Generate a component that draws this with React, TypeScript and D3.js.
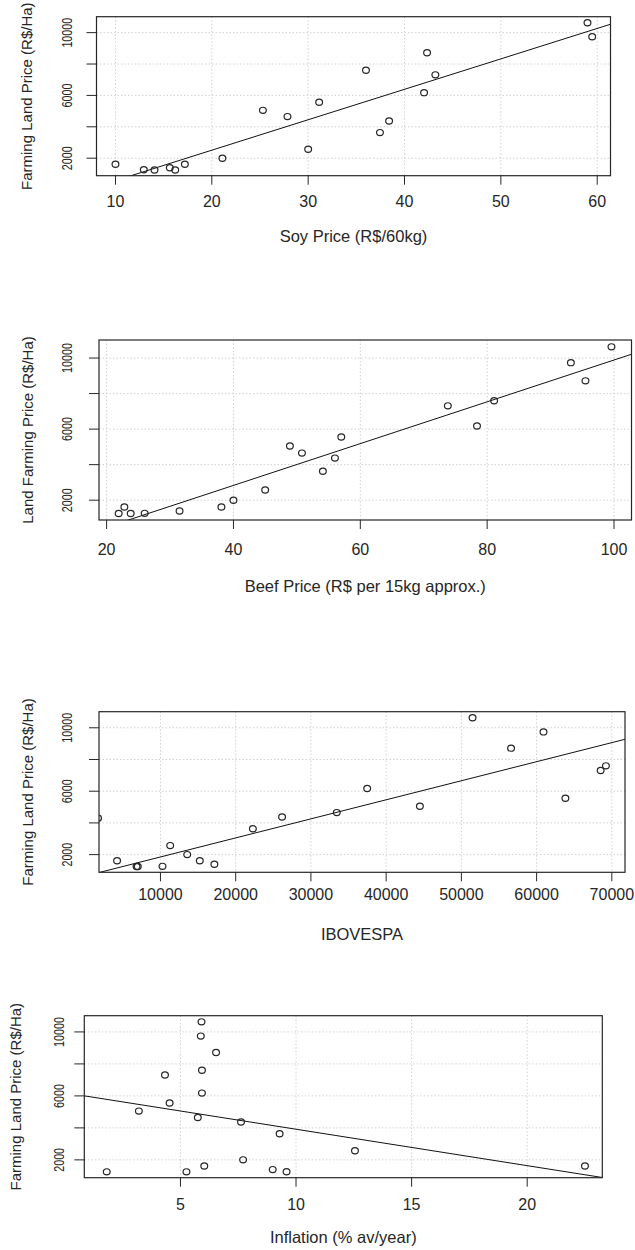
import React from 'react';
import * as d3 from 'd3';

// Farming land price (R$/Ha), one value per observation, shared by all panels
const landPrice = [1250, 1250, 1260, 1390, 1615, 1615, 2000, 2570, 3630, 4370, 4650, 5050, 5560, 6175, 7310, 7600, 8715, 9740, 10630];
const soyPrice = [14.05, 16.2, 12.94, 15.64, 10.0, 17.2, 21.1, 30.0, 37.45, 38.4, 27.85, 25.3, 31.14, 42.03, 43.2, 36.0, 42.34, 59.48, 58.99];
const beefPrice = [21.9, 23.8, 26.0, 31.5, 22.8, 38.1, 40, 45, 54.1, 56.0, 50.8, 48.9, 57.0, 78.4, 73.8, 81.1, 95.5, 93.2, 99.6];
const ibovespa = [6821, 6983, 10270, 17166, 4235, 15226, 13556, 11293, 22284, 26164, 33437, 44483, 63826, 37478, 68513, 69213, 56606, 60916, 51487];
const ibovExtra = [1700, 4300]; // point sitting on the left border
const inflation = [1.81, 5.26, 9.59, 8.99, 22.5, 6.03, 7.71, 12.55, 9.29, 7.62, 5.75, 3.2, 4.53, 5.93, 4.33, 5.93, 6.54, 5.88, 5.91];

// fitted lines [intercept, slope]
const soyFit = [-1367, 193.9];
const beefFit = [-1872, 117.6];
const ibovFit = [650, 0.1202];
const inflFit = [6194, -227.8];

const yTicks = [2000, 4000, 6000, 8000, 10000];
const yTickLabels = [2000, 6000, 10000];
const soyTicks = [10, 20, 30, 40, 50, 60];
const beefTicks = [20, 40, 60, 80, 100];
const ibovTicks = [10000, 20000, 30000, 40000, 50000, 60000, 70000];
const inflTicks = [5, 10, 15, 20];

const Y_DOMAIN = [885, 11015];
const FONT = '"Liberation Sans", Arial, sans-serif';
const INK = '#262626';

type PanelProps = {
  id: string;
  pts: number[][];
  fit: number[];
  xDomain: number[];
  xTicks: number[];
  box: { x0: number; x1: number; y0: number; y1: number };
  xLabel: string;
  yLabel: string;
  yTickX: number;
  yTitleX: number;
  xTickY: number;
  xTitleY: number;
};

function Panel(p: PanelProps) {
  const { box } = p;
  const x = d3.scaleLinear().domain(p.xDomain).range([box.x0, box.x1]);
  const y = d3.scaleLinear().domain(Y_DOMAIN).range([box.y1, box.y0]);
  const line = d3.line<number>().x(v => x(v)).y(v => y(p.fit[0] + p.fit[1] * v));
  const midY = (box.y0 + box.y1) / 2;
  const midX = (box.x0 + box.x1) / 2;
  return (
    <g fontFamily={FONT} fill={INK}>
      <defs>
        <clipPath id={p.id}>
          <rect x={box.x0} y={box.y0} width={box.x1 - box.x0} height={box.y1 - box.y0} />
        </clipPath>
      </defs>
      {/* grid */}
      <g stroke="#d0d0d0" strokeWidth={1} strokeDasharray="1.5,2">
        {p.xTicks.map(t => (
          <line key={'gx' + t} x1={x(t)} x2={x(t)} y1={box.y0} y2={box.y1} />
        ))}
        {yTicks.map(t => (
          <line key={'gy' + t} x1={box.x0} x2={box.x1} y1={y(t)} y2={y(t)} />
        ))}
      </g>
      {/* points + fit */}
      <g clipPath={`url(#${p.id})`}>
        <path d={line(p.xDomain) || ''} stroke="#111" strokeWidth={1} fill="none" />
        {p.pts.map((d, i) => (
          <ellipse key={i} cx={x(d[0])} cy={y(d[1])} rx={3.4} ry={3.1} fill="none" stroke={INK} strokeWidth={1.2} />
        ))}
      </g>
      <rect x={box.x0} y={box.y0} width={box.x1 - box.x0} height={box.y1 - box.y0} fill="none" stroke={INK} strokeWidth={1.2} />
      {/* axes */}
      <g stroke={INK} strokeWidth={1}>
        {p.xTicks.map(t => (
          <line key={'tx' + t} x1={x(t)} x2={x(t)} y1={box.y1} y2={box.y1 + 9} />
        ))}
        {yTicks.map(t => (
          <line key={'ty' + t} x1={box.x0 - 10} x2={box.x0} y1={y(t)} y2={y(t)} />
        ))}
      </g>
      {p.xTicks.map(t => (
        <text key={'lx' + t} x={x(t)} y={p.xTickY} fontSize={16} textAnchor="middle">{t}</text>
      ))}
      {yTickLabels.map(t => (
        <text key={'ly' + t} transform={`translate(${p.yTickX},${y(t)}) rotate(-90) scale(0.72,1)`} fontSize={15} textAnchor="middle">{t}</text>
      ))}
      <text x={midX} y={p.xTitleY} fontSize={16.5} textAnchor="middle">{p.xLabel}</text>
      <text transform={`translate(${p.yTitleX},${midY}) rotate(-90)`} fontSize={15} textAnchor="middle">{p.yLabel}</text>
    </g>
  );
}

export default function App() {
  const soyPts = soyPrice.map((v, i) => [v, landPrice[i]]);
  const beefPts = beefPrice.map((v, i) => [v, landPrice[i]]);
  const ibovPts = ibovespa.map((v, i) => [v, landPrice[i]]).concat([ibovExtra]);
  const inflPts = inflation.map((v, i) => [v, landPrice[i]]);
  return (
    <svg width={635} height={1250} style={{ position: 'absolute', left: 0, top: 0, background: '#fff' }}>
      <Panel id="c1" pts={soyPts} fit={soyFit} xDomain={[8.03, 61.38]} xTicks={soyTicks}
        box={{ x0: 96.5, x1: 610.5, y0: 16.7, y1: 175.7 }}
        xLabel="Soy Price (R$/60kg)" yLabel="Farming Land Price (R$/Ha)"
        yTickX={71.7} yTitleX={31.5} xTickY={207.3} xTitleY={242} />
      <Panel id="c2" pts={beefPts} fit={beefFit} xDomain={[18.8, 102.76]} xTicks={beefTicks}
        box={{ x0: 99, x1: 631.5, y0: 340, y1: 520 }}
        xLabel="Beef Price (R$ per 15kg approx.)" yLabel="Land Farming Price (R$/Ha)"
        yTickX={72} yTitleX={32.5} xTickY={555} xTitleY={592} />
      <Panel id="c3" pts={ibovPts} fit={ibovFit} xDomain={[1830, 71750]} xTicks={ibovTicks}
        box={{ x0: 99, x1: 625, y0: 711.7, y1: 872.3 }}
        xLabel="IBOVESPA" yLabel="Farming Land Price (R$/Ha)"
        yTickX={72} yTitleX={33} xTickY={899.5} xTitleY={940} />
      <Panel id="c4" pts={inflPts} fit={inflFit} xDomain={[0.84, 23.25]} xTicks={inflTicks}
        box={{ x0: 84.3, x1: 602.3, y0: 1015.7, y1: 1177.7 }}
        xLabel="Inflation (% av/year)" yLabel="Farming Land Price (R$/Ha)"
        yTickX={64} yTitleX={21} xTickY={1209.5} xTitleY={1243} />
    </svg>
  );
}
